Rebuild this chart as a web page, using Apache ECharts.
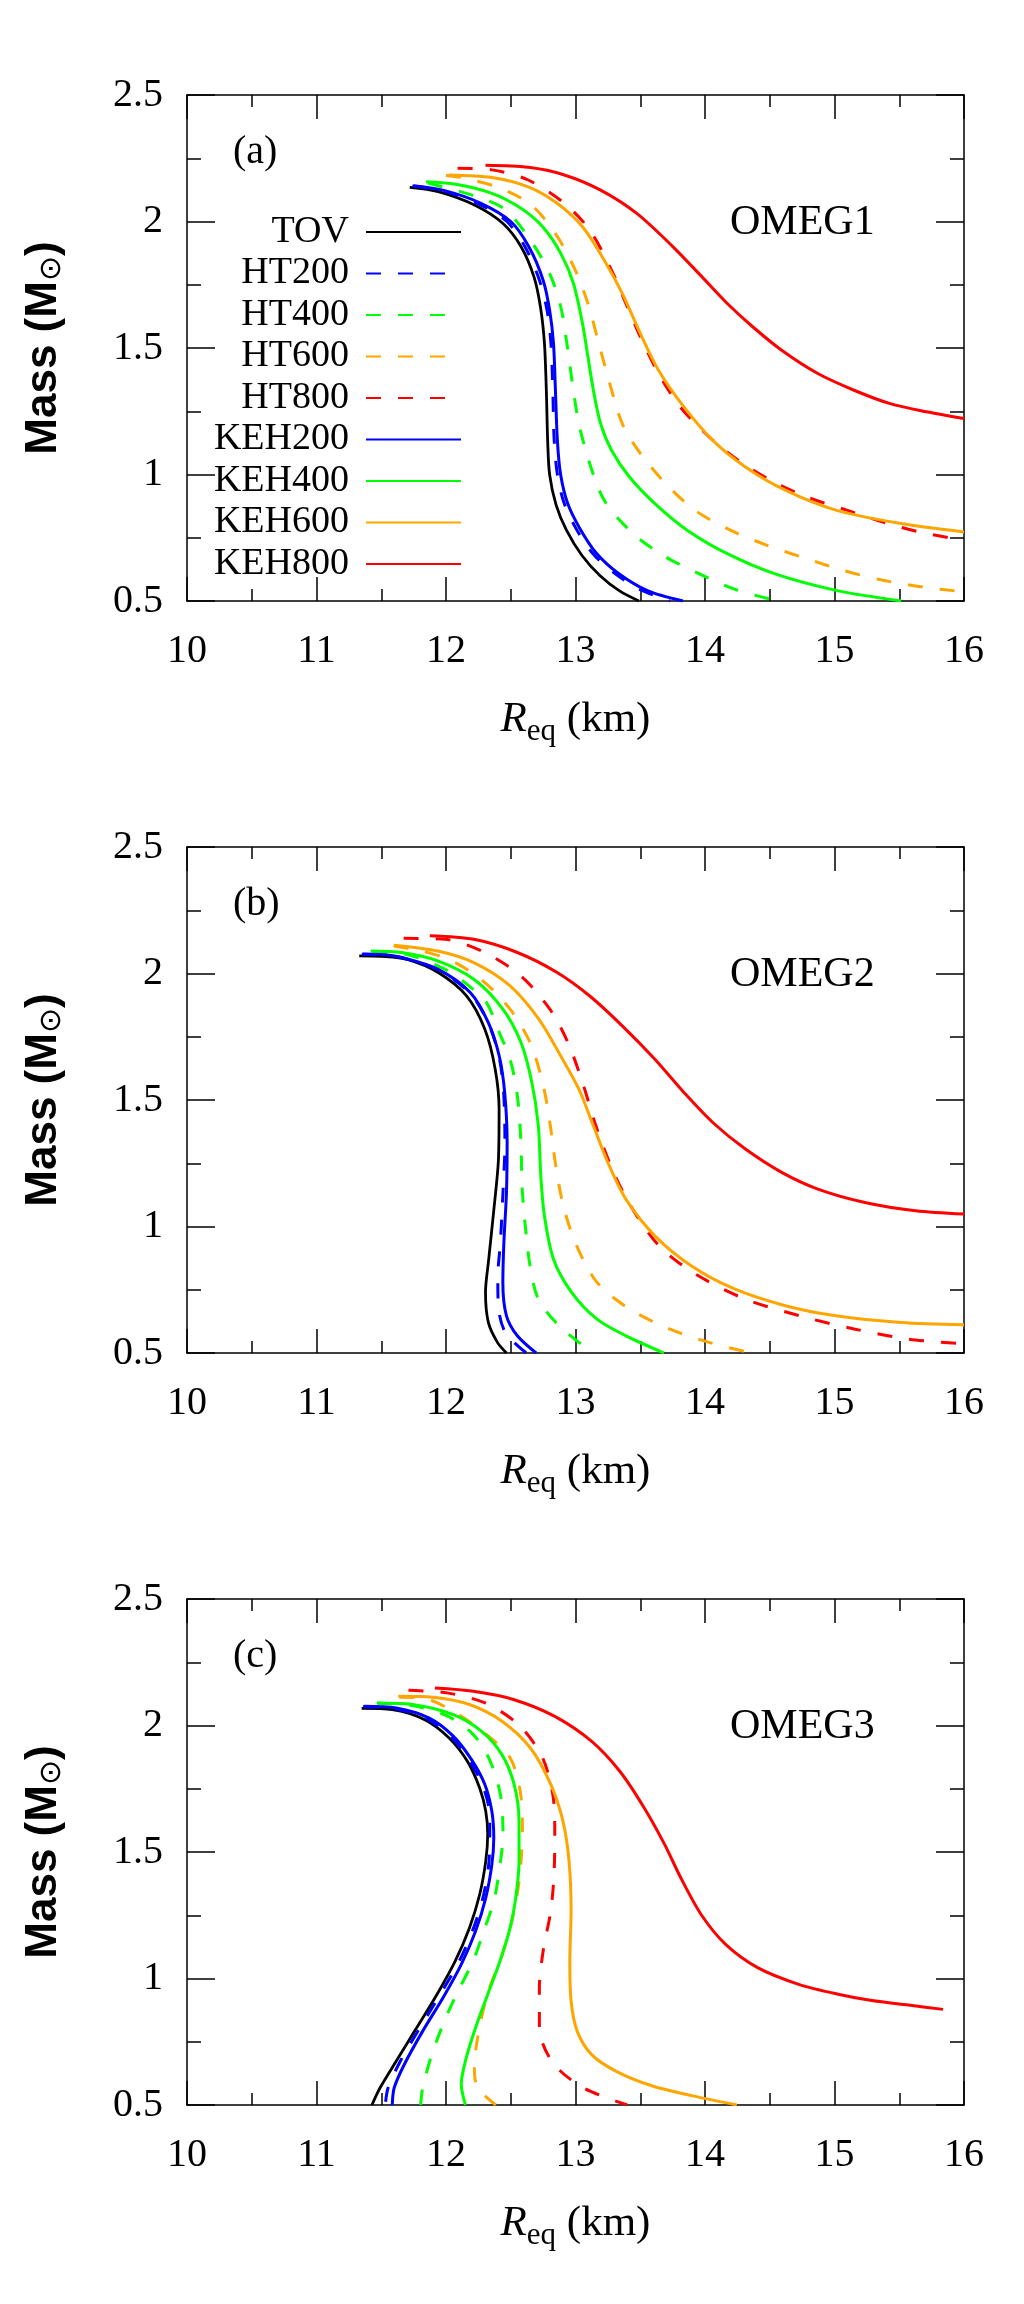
<!DOCTYPE html>
<html>
<head>
<meta charset="utf-8">
<script src="https://cdn.jsdelivr.net/npm/echarts@6/dist/echarts.min.js"></script>
<style>
html, body { margin: 0; padding: 0; background: #fff; }
#chart { width: 1024px; height: 2304px; }
</style>
</head>
<body>
<div id="chart"></div>
<script>
// axis ticks
var xTicks = [10, 11, 12, 13, 14, 15, 16];
var yTicks = [0.5, 1, 1.5, 2, 2.5];
var seriesNames = ['TOV', 'HT200', 'HT400', 'HT600', 'HT800', 'KEH200', 'KEH400', 'KEH600', 'KEH800'];
var panelLabels = ['(a)', '(b)', '(c)'];
var eosNames = ['OMEG1', 'OMEG2', 'OMEG3'];

// (a) OMEG1  [R_eq (km), M (Msun)]
var tovA = [[11.72,2.135],[11.94,2.118],[12.22,2.065],[12.44,1.992],[12.58,1.90],[12.68,1.78],[12.73,1.66],[12.76,1.52],[12.775,1.33],[12.785,1.135],[12.80,1.0],[12.85,0.88],[12.93,0.78],[13.05,0.68],[13.19,0.60],[13.34,0.54],[13.49,0.5]];
var ht200A = [[11.74,2.14],[11.97,2.122],[12.25,2.07],[12.47,2.0],[12.61,1.90],[12.72,1.77],[12.78,1.65],[12.81,1.52],[12.825,1.33],[12.835,1.14],[12.86,1.0],[12.91,0.89],[13.0,0.79],[13.13,0.69],[13.30,0.61],[13.50,0.545],[13.73,0.5]];
var ht400A = [[11.86,2.152],[12.19,2.106],[12.45,2.05],[12.66,1.92],[12.80,1.795],[12.886,1.663],[12.937,1.505],[12.976,1.36],[13.026,1.201],[13.11,1.043],[13.222,0.898],[13.445,0.766],[13.697,0.674],[13.977,0.602],[14.256,0.542],[14.564,0.5]];
var ht600A = [[12.0,2.182],[12.12,2.174],[12.40,2.135],[12.66,2.065],[12.86,1.94],[12.998,1.808],[13.096,1.676],[13.18,1.518],[13.264,1.36],[13.361,1.201],[13.501,1.083],[13.697,0.964],[13.921,0.859],[14.2,0.779],[14.48,0.72],[14.787,0.667],[15.067,0.621],[15.374,0.582],[15.682,0.555],[16.0,0.536]];
var ht800A = [[12.09,2.21],[12.355,2.204],[12.635,2.164],[12.914,2.072],[13.11,1.966],[13.278,1.808],[13.389,1.676],[13.501,1.544],[13.641,1.399],[13.809,1.267],[14.032,1.149],[14.256,1.056],[14.508,0.977],[14.787,0.911],[15.095,0.859],[15.374,0.812],[15.654,0.773],[16.0,0.74]];
var keh200A = [[11.75,2.141],[11.99,2.122],[12.27,2.072],[12.50,2.0],[12.64,1.90],[12.75,1.768],[12.80,1.65],[12.83,1.518],[12.845,1.333],[12.86,1.135],[12.885,1.0],[12.94,0.885],[13.03,0.79],[13.16,0.69],[13.33,0.61],[13.56,0.54],[13.83,0.5]];
var keh400A = [[11.846,2.157],[12.075,2.147],[12.355,2.111],[12.579,2.052],[12.746,1.979],[12.886,1.874],[12.984,1.755],[13.054,1.597],[13.096,1.465],[13.138,1.333],[13.194,1.201],[13.278,1.096],[13.417,0.99],[13.613,0.885],[13.865,0.779],[14.172,0.687],[14.536,0.608],[15.011,0.542],[15.514,0.5]];
var keh600A = [[12.02,2.184],[12.355,2.174],[12.635,2.137],[12.858,2.072],[13.054,1.979],[13.222,1.847],[13.361,1.716],[13.501,1.557],[13.641,1.412],[13.837,1.267],[14.06,1.135],[14.312,1.03],[14.62,0.938],[15.011,0.859],[15.514,0.806],[16.0,0.773]];
var keh800A = [[12.305,2.222],[12.635,2.214],[12.914,2.184],[13.194,2.124],[13.473,2.032],[13.753,1.90],[13.977,1.781],[14.172,1.676],[14.368,1.584],[14.592,1.491],[14.871,1.399],[15.151,1.333],[15.43,1.28],[15.71,1.248],[16.0,1.221]];

// (b) OMEG2
var tovB = [[11.33,2.07],[11.50,2.068],[11.70,2.056],[11.94,2.004],[12.16,1.911],[12.30,1.78],[12.38,1.622],[12.41,1.464],[12.405,1.266],[12.37,1.069],[12.33,0.871],[12.305,0.74],[12.327,0.621],[12.397,0.542],[12.467,0.5]];
var ht200B = [[11.35,2.076],[11.52,2.073],[11.66,2.062],[11.94,2.014],[12.19,1.92],[12.33,1.80],[12.41,1.67],[12.445,1.53],[12.455,1.33],[12.44,1.135],[12.42,0.937],[12.40,0.80],[12.405,0.68],[12.46,0.58],[12.62,0.5]];
var ht400B = [[11.43,2.085],[11.70,2.075],[11.99,2.017],[12.18,1.95],[12.313,1.885],[12.411,1.767],[12.495,1.661],[12.551,1.516],[12.579,1.332],[12.587,1.161],[12.612,1.003],[12.649,0.845],[12.713,0.713],[12.886,0.601],[13.138,0.5]];
var ht600B = [[11.597,2.109],[11.80,2.09],[12.02,2.056],[12.271,1.977],[12.495,1.859],[12.649,1.727],[12.746,1.569],[12.802,1.411],[12.844,1.253],[12.9,1.095],[12.998,0.937],[13.166,0.779],[13.417,0.674],[13.725,0.595],[14.032,0.542],[14.354,0.5]];
var ht800B = [[11.673,2.139],[11.992,2.135],[12.299,2.083],[12.579,1.99],[12.802,1.859],[12.942,1.727],[13.054,1.569],[13.166,1.385],[13.306,1.2],[13.473,1.042],[13.669,0.911],[13.949,0.805],[14.312,0.713],[14.731,0.647],[15.151,0.595],[15.57,0.555],[16.0,0.536]];
var keh200B = [[11.358,2.077],[11.52,2.074],[11.66,2.063],[11.936,2.017],[12.187,1.925],[12.327,1.806],[12.411,1.674],[12.453,1.53],[12.472,1.332],[12.467,1.135],[12.447,0.937],[12.439,0.779],[12.467,0.647],[12.551,0.568],[12.696,0.5]];
var keh400B = [[11.419,2.089],[11.656,2.083],[11.936,2.05],[12.215,1.977],[12.439,1.859],[12.579,1.727],[12.663,1.569],[12.713,1.398],[12.732,1.2],[12.76,1.042],[12.83,0.871],[12.97,0.74],[13.166,0.634],[13.389,0.568],[13.683,0.5]];
var keh600B = [[11.597,2.112],[11.936,2.089],[12.215,2.043],[12.495,1.951],[12.718,1.819],[12.886,1.674],[13.026,1.543],[13.138,1.398],[13.25,1.253],[13.389,1.108],[13.613,0.963],[13.893,0.845],[14.228,0.753],[14.62,0.687],[15.011,0.647],[15.514,0.621],[16.0,0.612]];
var keh800B = [[11.875,2.149],[12.215,2.135],[12.551,2.083],[12.858,2.004],[13.11,1.911],[13.361,1.793],[13.613,1.661],[13.837,1.53],[14.06,1.411],[14.312,1.306],[14.592,1.214],[14.871,1.148],[15.235,1.095],[15.626,1.062],[16.0,1.049]];

// (c) OMEG3
var tovC = [[11.349,2.068],[11.585,2.063],[11.836,2.023],[12.024,1.951],[12.165,1.859],[12.26,1.753],[12.307,1.661],[12.322,1.569],[12.307,1.464],[12.26,1.332],[12.181,1.2],[12.071,1.069],[11.93,0.937],[11.773,0.805],[11.616,0.674],[11.491,0.568],[11.428,0.5]];
var ht200C = [[11.36,2.074],[11.60,2.067],[11.85,2.027],[12.04,1.955],[12.18,1.862],[12.285,1.76],[12.335,1.66],[12.338,1.595],[12.332,1.464],[12.291,1.332],[12.213,1.2],[12.103,1.069],[11.955,0.937],[11.798,0.805],[11.648,0.674],[11.553,0.568],[11.531,0.5]];
var ht400C = [[11.47,2.088],[11.75,2.078],[12.0,2.04],[12.2,1.97],[12.33,1.872],[12.42,1.727],[12.44,1.569],[12.41,1.424],[12.37,1.306],[12.30,1.20],[12.21,1.07],[12.08,0.937],[11.977,0.819],[11.883,0.687],[11.82,0.568],[11.804,0.5]];
var ht600C = [[11.64,2.112],[11.85,2.105],[12.056,2.056],[12.30,1.97],[12.495,1.872],[12.573,1.74],[12.59,1.595],[12.573,1.424],[12.526,1.266],[12.435,1.095],[12.319,0.937],[12.244,0.766],[12.219,0.647],[12.244,0.568],[12.385,0.5]];
var ht800C = [[11.71,2.139],[12.008,2.129],[12.307,2.088],[12.558,2.004],[12.74,1.879],[12.825,1.727],[12.84,1.569],[12.834,1.411],[12.809,1.266],[12.752,1.115],[12.721,0.963],[12.721,0.805],[12.825,0.667],[13.06,0.568],[13.40,0.5]];
var keh200C = [[11.365,2.076],[11.616,2.069],[11.867,2.03],[12.056,1.958],[12.197,1.865],[12.30,1.767],[12.354,1.661],[12.369,1.556],[12.354,1.45],[12.307,1.319],[12.228,1.187],[12.118,1.056],[11.977,0.924],[11.82,0.792],[11.679,0.661],[11.60,0.568],[11.585,0.5]];
var keh400C = [[11.465,2.089],[11.742,2.083],[12.056,2.043],[12.275,1.977],[12.432,1.885],[12.526,1.767],[12.564,1.622],[12.564,1.464],[12.542,1.332],[12.495,1.2],[12.417,1.069],[12.322,0.937],[12.228,0.805],[12.15,0.674],[12.118,0.582],[12.15,0.5]];
var keh600C = [[11.632,2.116],[11.9,2.112],[12.181,2.083],[12.432,2.017],[12.652,1.911],[12.809,1.767],[12.903,1.622],[12.95,1.464],[12.966,1.266],[12.956,1.069],[12.966,0.911],[13.013,0.792],[13.123,0.70],[13.311,0.634],[13.594,0.575],[13.907,0.536],[14.246,0.5]];
var keh800C = [[11.914,2.148],[12.212,2.135],[12.526,2.102],[12.84,2.036],[13.123,1.938],[13.342,1.819],[13.531,1.674],[13.688,1.53],[13.813,1.398],[13.97,1.253],[14.159,1.135],[14.41,1.042],[14.724,0.977],[15.037,0.937],[15.288,0.913],[15.571,0.895],[15.838,0.878]];

var panels = [
	{ TOV: tovA, HT200: ht200A, HT400: ht400A, HT600: ht600A, HT800: ht800A, KEH200: keh200A, KEH400: keh400A, KEH600: keh600A, KEH800: keh800A },
	{ TOV: tovB, HT200: ht200B, HT400: ht400B, HT600: ht600B, HT800: ht800B, KEH200: keh200B, KEH400: keh400B, KEH600: keh600B, KEH800: keh800B },
	{ TOV: tovC, HT200: ht200C, HT400: ht400C, HT600: ht600C, HT800: ht800C, KEH200: keh200C, KEH400: keh400C, KEH600: keh600C, KEH800: keh800C }
];

var serif = '"Liberation Serif", "Times New Roman", serif';
var dash = [15, 17];
var lineStyles = {
	TOV: { color: '#000000', width: 2.8, type: 'solid' },
	HT200: { color: '#0000ff', width: 3, type: dash },
	HT400: { color: '#00ff00', width: 3, type: dash },
	HT600: { color: '#ffa500', width: 3, type: dash },
	HT800: { color: '#ff0000', width: 3, type: dash },
	KEH200: { color: '#0000ff', width: 3, type: 'solid' },
	KEH400: { color: '#00ff00', width: 3, type: 'solid' },
	KEH600: { color: '#ffa500', width: 3, type: 'solid' },
	KEH800: { color: '#ff0000', width: 3, type: 'solid' }
};

var gridLeft = 187, gridWidth = 777, gridHeight = 506;
var gridTops = [95, 847, 1599];
var black = { color: '#000', width: 1.5 };

var grids = [], xAxes = [], yAxes = [], series = [], graphics = [];

gridTops.forEach(function(top, i) {
	grids.push({ left: gridLeft, top: top, width: gridWidth, height: gridHeight, containLabel: false, outerBoundsMode: 'none' });

	['bottom', 'top'].forEach(function(pos) {
		var main = pos === 'bottom';
		xAxes.push({
			gridIndex: i, type: 'value', position: pos,
			min: xTicks[0], max: xTicks[xTicks.length - 1], interval: xTicks[1] - xTicks[0],
			axisLine: { show: true, onZero: false, lineStyle: black },
			axisTick: { show: true, inside: true, length: 24, lineStyle: black },
			minorTick: { show: true, splitNumber: 2, length: 12, lineStyle: black },
			splitLine: { show: false },
			minorSplitLine: { show: false },
			axisLabel: { show: main, margin: 30, fontFamily: serif, fontSize: 40, color: '#000', showMinLabel: true, showMaxLabel: true },
			name: main ? '{i|R}{s|eq}{n| (km)}' : '',
			nameLocation: 'middle', nameGap: 92,
			nameTextStyle: {
				rich: {
					i: { fontFamily: serif, fontStyle: 'italic', fontSize: 43, lineHeight: 54, color: '#000' },
					s: { fontFamily: serif, fontSize: 31, lineHeight: 32, verticalAlign: 'bottom', color: '#000' },
					n: { fontFamily: serif, fontSize: 43, lineHeight: 54, color: '#000' }
				}
			}
		});
	});

	['left', 'right'].forEach(function(pos) {
		var main = pos === 'left';
		yAxes.push({
			gridIndex: i, type: 'value', position: pos,
			min: yTicks[0], max: yTicks[yTicks.length - 1], interval: yTicks[1] - yTicks[0],
			axisLine: { show: true, onZero: false, lineStyle: black },
			axisTick: { show: true, inside: true, length: 28, lineStyle: black },
			minorTick: { show: true, splitNumber: 2, length: 14, lineStyle: black },
			splitLine: { show: false },
			minorSplitLine: { show: false },
			axisLabel: { show: main, margin: 24, fontFamily: serif, fontSize: 40, color: '#000', showMinLabel: true, showMaxLabel: true },
			name: main ? '{b|Mass (M}{s|\u2299}{b|)}' : '',
			nameLocation: 'middle', nameGap: 120, nameRotate: 90,
			nameTextStyle: {
				rich: {
					b: { fontFamily: '"Liberation Sans", Arial, sans-serif', fontWeight: 'bold', fontSize: 44, lineHeight: 46, color: '#000' },
					s: { fontFamily: '"DejaVu Sans", sans-serif', fontSize: 30, lineHeight: 36, verticalAlign: 'bottom', color: '#000' }
				}
			}
		});
	});

	// 每个面板的曲线
	seriesNames.forEach(function(name) {
		var ls = lineStyles[name];
		series.push({
			type: 'line', name: name,
			xAxisIndex: 2 * i, yAxisIndex: 2 * i,
			data: panels[i][name],
			symbol: 'none', showSymbol: false,
			smooth: 0.3,
			lineStyle: { color: ls.color, width: ls.width, type: ls.type },
			itemStyle: { color: ls.color },
			emphasis: { disabled: true },
			silent: true
		});
	});

	graphics.push({ type: 'text', left: 233, top: top + 37, style: { text: panelLabels[i], font: '40px ' + serif, fill: '#000' } });
	graphics.push({ type: 'text', left: 730, top: top + 107, style: { text: eosNames[i], font: '42px ' + serif, fill: '#000' } });
});

var chart = echarts.init(document.getElementById('chart'), null, { renderer: 'canvas' });
chart.setOption({
	backgroundColor: '#ffffff',
	animation: false,
	grid: grids,
	xAxis: xAxes,
	yAxis: yAxes,
	legend: {
		data: seriesNames,
		orient: 'vertical', align: 'right',
		right: 562, top: 212, padding: 0,
		itemWidth: 95, itemHeight: 14, itemGap: 1.5,
		selectedMode: false,
		itemStyle: { opacity: 0, borderWidth: 0 },
		textStyle: { fontFamily: serif, fontSize: 38, lineHeight: 40, color: '#000', padding: [0, 12, 0, 0] }
	},
	tooltip: { show: false },
	graphic: graphics,
	series: series
});
</script>
</body>
</html>
